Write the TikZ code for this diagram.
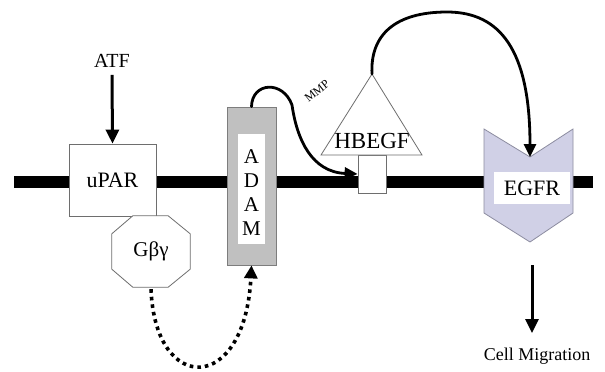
\documentclass[tikz,border=0pt]{standalone}
\usepackage{fontspec}
\setmainfont{Liberation Serif}
\usetikzlibrary{arrows.meta}
\definecolor{egfrfill}{RGB}{208,208,230}
\definecolor{egfrline}{RGB}{140,140,160}
\definecolor{adamfill}{RGB}{192,192,192}
\definecolor{shapeline}{RGB}{110,110,110}
\begin{document}
\begin{tikzpicture}[x=1pt,y=-1pt,
  box/.style={draw=shapeline, line width=0.8pt, fill=white, inner sep=0pt},
  lbl/.style={inner sep=0pt, font=\fontsize{22}{24}\selectfont},
  arr/.style={line width=3pt, -{Triangle[length=14pt,width=13pt]}},
  curvearr/.style={line width=2.8pt, line cap=round, -{Triangle[length=13pt,width=12pt]}},
  dotarr/.style={line width=3.6pt, dash pattern=on 3.6pt off 4pt, -{Triangle[length=13pt,width=13pt]}}
]
\useasboundingbox (0,0) rectangle (605,372);
\fill[white] (0,0) rectangle (605,372);

% membrane
\coordinate (mL) at (14,182);
\coordinate (mR) at (593,182);
\draw[line width=12pt] (mL) -- (mR);

% uPAR
\node[box, lbl, minimum width=87pt, minimum height=72pt] (upar) at (112.5,180) {uPAR};
\node[lbl, font=\fontsize{20}{22}\selectfont] (atf) at (112,61) {ATF};
\draw[arr] ([yshift=-7pt]atf.south) -- (upar.north);

% G beta gamma octagon
\node[inner sep=0pt, minimum width=78pt, minimum height=71pt] (gby) at (151,251.5) {};
\draw[box] ([xshift=21pt]gby.north west) -- ([xshift=-22pt]gby.north east)
  -- ([yshift=-18pt]gby.north east) -- ([yshift=18pt]gby.south east)
  -- ([xshift=-22pt]gby.south east) -- ([xshift=21pt]gby.south west)
  -- ([yshift=18pt]gby.south west) -- ([yshift=-18pt]gby.north west) -- cycle;
\node[lbl, font=\fontsize{21}{22}\selectfont] (gbytxt) at (gby.center) {Gβγ};

% ADAM
\node[draw=shapeline!90, line width=0.8pt, fill=adamfill, inner sep=0pt,
      minimum width=49pt, minimum height=158pt] (adam) at (251.5,186) {};
\node[fill=white, inner sep=0pt, minimum width=27pt, minimum height=110pt] (adamw) at (251.5,189) {};
\node[lbl, align=center, font=\fontsize{21}{24}\selectfont] (adamtxt) at (251.5,193) {A\\D\\A\\M};

% HBEGF
\node[box, minimum width=28pt, minimum height=38pt] (stem) at (372,174) {};
\coordinate (hbApex) at (372,74);
\coordinate (hbR) at (422,155);
\coordinate (hbL) at (321,155);
\draw[box] (hbApex) -- (hbR) -- (hbL) -- cycle;
\node[lbl, font=\fontsize{23}{24}\selectfont] (hbegf) at (372,141) {HBEGF};

% EGFR
\coordinate (eTL) at (484,129);
\coordinate (eTop) at (530,157);
\coordinate (eTR) at (573,129);
\coordinate (eBR) at (573,213);
\coordinate (eBot) at (530,242);
\coordinate (eBL) at (484,213);
\draw[draw=egfrline, line width=0.8pt, fill=egfrfill] (eTL) -- (eTop) -- (eTR) -- (eBR) -- (eBot) -- (eBL) -- cycle;
\node[fill=white, inner sep=0pt, minimum width=76pt, minimum height=32pt, lbl] (egfr) at (532,188) {EGFR};

% Cell migration
\node[inner sep=0pt, font=\fontsize{18}{20}\selectfont] (cm) at (537,356) {Cell Migration};
\coordinate (cmTop) at (532,265);
\draw[arr] (cmTop) -- (cmTop |- 0,333);

% connectors
\draw[curvearr] (adam.north) .. controls (252,82) and (283,80) .. (292,105)
   .. controls (297,140) and (312,172) .. (stem.west);
\node[inner sep=0pt, rotate=39, font=\fontsize{12}{12}\selectfont] (mmp) at (317,91) {MMP};
\draw[curvearr] (hbApex) .. controls (370,35) and (395,12) .. (447,12)
   .. controls (500,12) and (530,50) .. (eTop);
\draw[dotarr] ([yshift=-2pt]gby.south) .. controls (155,395) and (245,395) .. (adam.south);
\end{tikzpicture}
\end{document}
